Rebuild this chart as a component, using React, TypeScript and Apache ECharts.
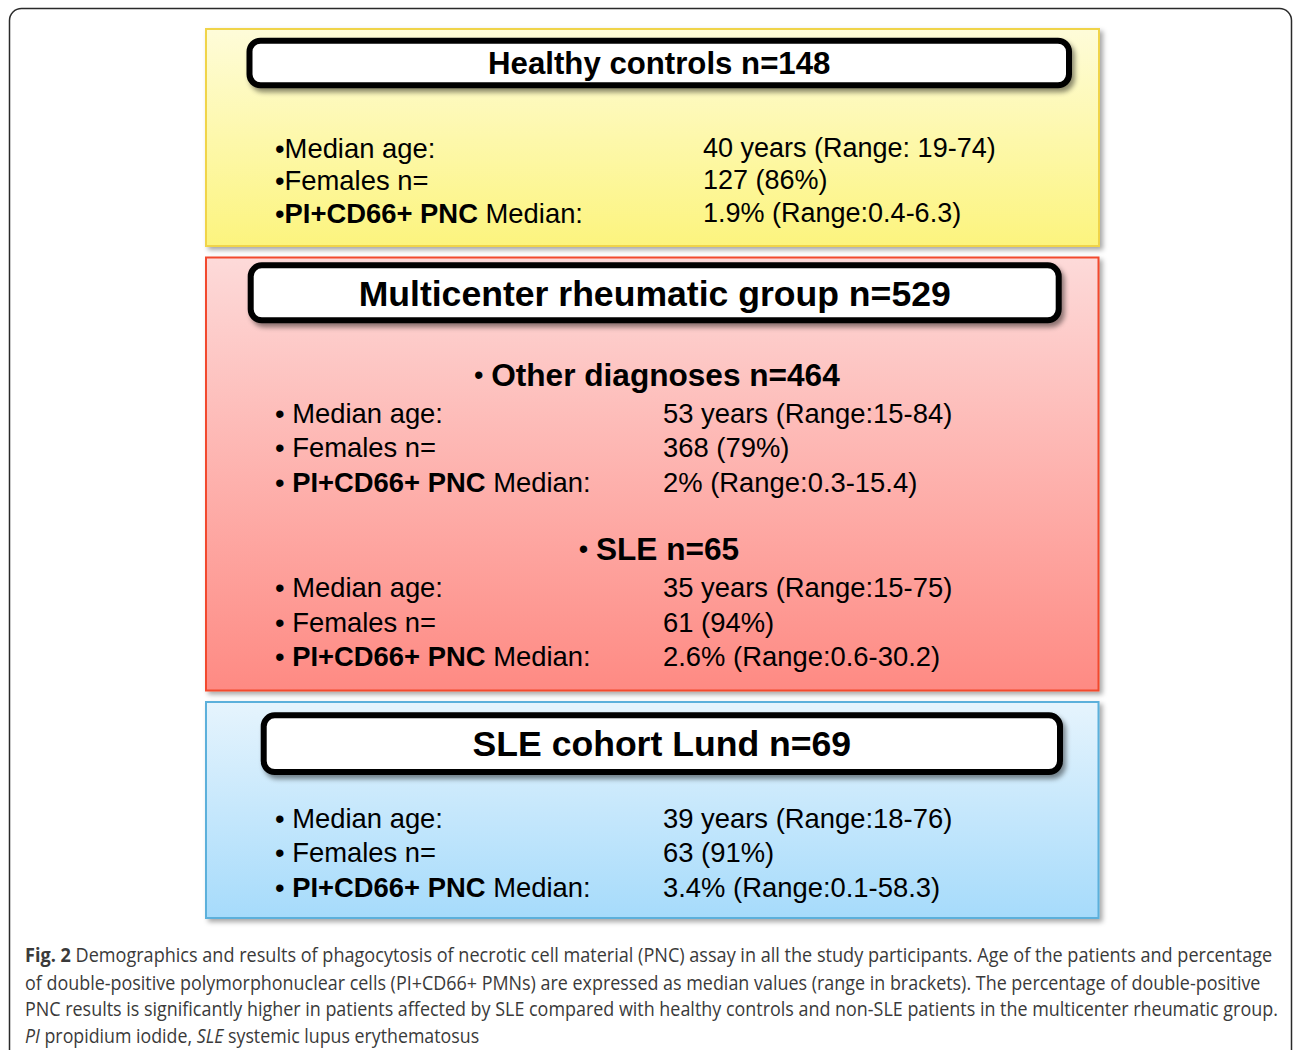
import React, { useEffect, useRef } from "react";
import * as echarts from "echarts";

// ---------- DATA ----------
const groupTitles = [
  "Healthy controls n=148",
  "Multicenter rheumatic group n=529",
  "SLE cohort Lund n=69",
];
const subgroupTitles = ["Other diagnoses n=464", "SLE n=65"];
const rowLabels = ["Median age:", "Females n=", "Median:"];
const pncPrefix = "PI+CD66+ PNC";
const healthyValues = ["40 years (Range: 19-74)", "127 (86%)", "1.9% (Range:0.4-6.3)"];
const otherDiagValues = ["53 years (Range:15-84)", "368 (79%)", "2% (Range:0.3-15.4)"];
const sleMultiValues = ["35 years (Range:15-75)", "61 (94%)", "2.6% (Range:0.6-30.2)"];
const lundValues = ["39 years (Range:18-76)", "63 (91%)", "3.4% (Range:0.1-58.3)"];
const captionLines = [
  [["b", "Fig. 2"], ["n", " Demographics and results of phagocytosis of necrotic cell material (PNC) assay in all the study participants. Age of the patients and percentage"]],
  [["n", "of double-positive polymorphonuclear cells (PI+CD66+ PMNs) are expressed as median values (range in brackets). The percentage of double-positive"]],
  [["n", "PNC results is significantly higher in patients affected by SLE compared with healthy controls and non-SLE patients in the multicenter rheumatic group."]],
  [["i", "PI"], ["n", " propidium iodide, "], ["i", "SLE"], ["n", " systemic lupus erythematosus"]],
];

// ---------- STYLE / LAYOUT ----------
const FONT = "'Liberation Sans', Arial, Helvetica, sans-serif";
const CAP_FONT = "'Open Sans', 'Noto Sans', sans-serif";
const CAP_SIZE = 19.5;
const CAP_WIDTHS = [1248, 1237, 1254, 454];
const CAP_Y = [955, 982, 1008, 1035];

const panels = [
  { x: 206, y: 29, w: 893, h: 217, top: "#fefcd9", bottom: "#fcf47e", border: "#f0d44a" },
  { x: 206, y: 257.5, w: 892.5, h: 433, top: "#fddad9", bottom: "#fe8a83", border: "#f24a2e" },
  { x: 206, y: 702, w: 892.5, h: 216, top: "#e6f4fd", bottom: "#a6dbfb", border: "#5bb0db" },
];
const headers = [
  { x: 249.5, y: 40.7, w: 819.5, h: 44.6, size: 31.2, ty: 63 },
  { x: 250.7, y: 265.3, w: 808, h: 55, size: 35.6, ty: 294 },
  { x: 263.7, y: 715.3, w: 796.3, h: 56.7, size: 35.6, ty: 744 },
];

function measure(font: string, text: string): number {
  const c = document.createElement("canvas");
  const ctx = c.getContext("2d")!;
  ctx.font = font;
  return ctx.measureText(text).width;
}

function rowText(label: string, i: number, sep: string) {
  if (i === 2) return `{n|•${sep}}{b|${pncPrefix}}{n| ${label}}`;
  return `{n|•${sep}${label}}`;
}

const makeRich = (size: number) => ({
  n: { fontFamily: FONT, fontSize: size, fill: "#000" },
  b: { fontFamily: FONT, fontSize: size, fontWeight: "bold", fill: "#000" },
});

export default function App() {
  const ref = useRef<HTMLDivElement>(null);
  useEffect(() => {
    if (!ref.current) return;
    const chart = echarts.init(ref.current, null, { renderer: "svg" });
    const els: any[] = [];

    // outer frame
    els.push({
      type: "rect",
      shape: { x: 9.5, y: 8.5, width: 1282, height: 1100, r: 12 },
      style: { fill: "none", stroke: "#2a2a2a", lineWidth: 1.5 },
    });

    panels.forEach((p) => {
      els.push({
        type: "rect",
        shape: { x: p.x, y: p.y, width: p.w, height: p.h },
        style: {
          fill: new echarts.graphic.LinearGradient(0, 0, 0, 1, [
            { offset: 0, color: p.top },
            { offset: 1, color: p.bottom },
          ]),
          stroke: p.border,
          lineWidth: 2,
          shadowBlur: 5,
          shadowOffsetX: 3,
          shadowOffsetY: 3,
          shadowColor: "rgba(0,0,0,0.35)",
        },
      });
    });

    headers.forEach((h, i) => {
      els.push({
        type: "rect",
        shape: { x: h.x, y: h.y, width: h.w, height: h.h, r: 11 },
        style: {
          fill: "#fff",
          stroke: "#000",
          lineWidth: 6,
          shadowBlur: 5,
          shadowOffsetX: 3,
          shadowOffsetY: 4,
          shadowColor: "rgba(0,0,0,0.45)",
        },
      });
      els.push({
        type: "text",
        style: {
          text: groupTitles[i],
          x: h.x + h.w / 2,
          y: h.ty,
          align: "center",
          verticalAlign: "middle",
          fontFamily: FONT,
          fontSize: h.size,
          fontWeight: "bold",
          fill: "#000",
        },
      });
    });

    const addRows = (
      values: string[],
      ys: number[],
      valX: number,
      sep: string,
      labelSize: number,
      valueSize: number
    ) => {
      values.forEach((v, i) => {
        els.push({
          type: "text",
          style: {
            text: rowText(rowLabels[i], i, sep),
            x: 275,
            y: ys[i],
            verticalAlign: "middle",
            rich: makeRich(labelSize),
          },
        });
        els.push({
          type: "text",
          style: {
            text: v,
            x: valX,
            y: ys[i],
            verticalAlign: "middle",
            fontFamily: FONT,
            fontSize: valueSize,
            fill: "#000",
          },
        });
      });
    };

    addRows(healthyValues, [148, 180, 213], 703, "", 27.4, 27);
    addRows(otherDiagValues, [413, 447, 482], 663, " ", 27.4, 27.4);
    addRows(sleMultiValues, [587, 622, 656], 663, " ", 27.4, 27.4);
    addRows(lundValues, [818, 852, 887], 663, " ", 27.4, 27.4);

    // subgroup titles
    const subY = [375, 549];
    const subX = [653, 655];
    subgroupTitles.forEach((t, i) => {
      els.push({
        type: "text",
        style: {
          text: `{bul|•}{h|${t}}`,
          x: subX[i],
          y: subY[i],
          align: "center",
          verticalAlign: "middle",
          rich: {
            bul: { fontFamily: FONT, fontSize: 27, fill: "#000", width: 25 },
            h: { fontFamily: FONT, fontSize: 31.6, fontWeight: "bold", fill: "#000" },
          },
        },
      });
    });

    // caption
    const capFont = (k: string) =>
      (k === "b" ? "bold " : k === "i" ? "italic " : "") + `${CAP_SIZE}px ${CAP_FONT}`;
    captionLines.forEach((segs, li) => {
      const natural = segs.reduce((s, [k, t]) => s + measure(capFont(k), t), 0);
      const sx = natural > 0 ? CAP_WIDTHS[li] / natural : 1;
      els.push({
        type: "text",
        x: 25,
        y: CAP_Y[li],
        scaleX: sx,
        style: {
          text: segs.map(([k, t]) => `{${k}|${t}}`).join(""),
          x: 0,
          y: 0,
          verticalAlign: "middle",
          rich: {
            n: { fontFamily: CAP_FONT, fontSize: CAP_SIZE, fill: "#3a3a3a" },
            b: { fontFamily: CAP_FONT, fontSize: CAP_SIZE, fontWeight: "bold", fill: "#3a3a3a" },
            i: { fontFamily: CAP_FONT, fontSize: CAP_SIZE, fontStyle: "italic", fill: "#3a3a3a" },
          },
        },
      });
    });

    chart.setOption({
      animation: false,
      backgroundColor: "#ffffff",
      graphic: { elements: els },
    });
    return () => chart.dispose();
  }, []);

  return (
    <div
      ref={ref}
      style={{ position: "fixed", left: 0, top: 0, width: 1293, height: 1050, background: "#fff" }}
    />
  );
}
